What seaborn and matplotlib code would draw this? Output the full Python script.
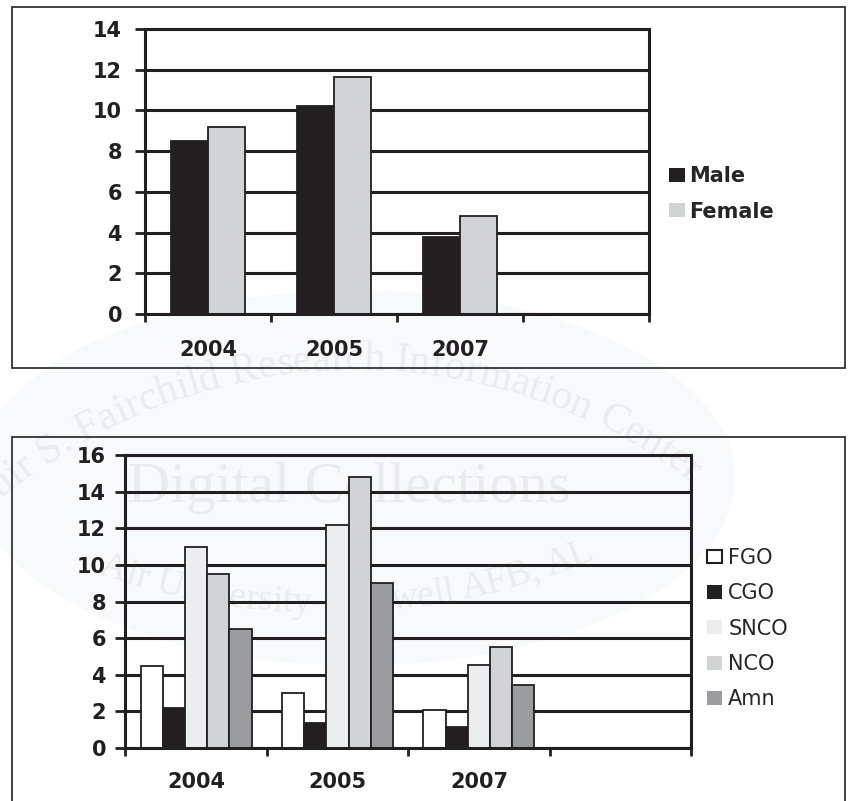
import numpy as np
import pandas as pd
import matplotlib
matplotlib.use("Agg")
import matplotlib.pyplot as plt
import seaborn as sns
from matplotlib.patches import Rectangle, Ellipse, Patch
from matplotlib.font_manager import FontProperties
from matplotlib.textpath import TextToPath

# ---- data -------------------------------------------------------------
years = ["2004", "2005", "2007"]

gender_groups = ["Male", "Female"]
male = [8.5, 10.2, 3.8]
female = [9.2, 11.65, 4.8]

rank_groups = ["FGO", "CGO", "SNCO", "NCO", "Amn"]
fgo = [4.5, 3.0, 2.05]
cgo = [2.2, 1.35, 1.15]
snco = [11.0, 12.2, 4.55]
nco = [9.5, 14.8, 5.5]
amn = [6.5, 9.0, 3.45]

# ---- styling ----------------------------------------------------------
INK = "#231f20"
gender_colors = [INK, "#d1d3d4"]
rank_colors = ["#ffffff", INK, "#ecedee", "#d1d3d4", "#9a9c9f"]
LABEL_FONT = "DejaVu Sans"

sns.set_theme(style="white")
plt.rcParams["font.family"] = [LABEL_FONT]

W, H = 848, 801


def fig_box(x0, y0, x1, y1):
    """Pixel box (origin top-left) -> figure-fraction rect."""
    return [x0 / W, 1 - y1 / H, (x1 - x0) / W, (y1 - y0) / H]


def long_frame(groups, series):
    rows = []
    for g, vals in zip(groups, series):
        for y, v in zip(years, vals):
            rows.append({"year": y, "group": g, "value": v})
    return pd.DataFrame(rows)


gender_df = long_frame(gender_groups, [male, female])
rank_df = long_frame(rank_groups, [fgo, cgo, snco, nco, amn])

fig = plt.figure(figsize=(W / 100, H / 100), dpi=100)

# ---- archive watermark (drawn underneath the charts) -----------------
WM_FONT = "Liberation Serif"
WM_COLOR = "#ebebed"

fig.patches.append(Ellipse((355 / W, 1 - 478 / H), 760 / W, 375 / H,
                           transform=fig.transFigure, facecolor="#f7f9fc",
                           edgecolor="none", zorder=-3))


def prefix_widths_px(text, size):
    fp = FontProperties(family=WM_FONT, size=size)
    ttp = TextToPath()
    pts = [ttp.get_text_width_height_descent(text[:i], fp, ismath=False)[0]
           for i in range(1, len(text) + 1)]
    return np.array(pts) * 100 / 72


def arc_text(text, cx, cy, r, x_first, size, top=True):
    """Set text letter by letter along a circle of baseline radius r."""
    p = prefix_widths_px(text, size)
    centers = (np.concatenate([[0.0], p[:-1]]) + p) / 2
    a0 = np.arcsin((x_first - cx) / r)
    for ch, s in zip(text, centers - centers[0]):
        if ch == " ":
            continue
        a = a0 + s / r
        x = cx + r * np.sin(a)
        if top:
            y = cy - r * np.cos(a)
            rot = -np.degrees(a)
        else:
            y = cy + r * np.cos(a)
            rot = np.degrees(a)
        fig.text(x / W, 1 - y / H, ch, rotation=rot, rotation_mode="anchor",
                 ha="center", va="baseline", fontsize=size, family=WM_FONT,
                 color=WM_COLOR, zorder=-1)


arc_text("Muir S. Fairchild Research Information Center",
         356, 926, 556, -14, 30, top=True)
fig.text(349 / W, 1 - 502 / H, "Digital Collections", ha="center", va="baseline",
         fontsize=42, family=WM_FONT, color=WM_COLOR, zorder=-1)
arc_text("Air University-Maxwell AFB, AL",
         327, -69, 682, 110, 27, top=False)

# ---- panel frames -----------------------------------------------------
fig.patches.append(Rectangle((12 / W, 1 - 368 / H), (845 - 12) / W, (368 - 7) / H,
                             transform=fig.transFigure, fill=False,
                             edgecolor="#333333", linewidth=1.3, zorder=1))
fig.patches.append(Rectangle((12 / W, -0.05), (845 - 12) / W, 1 - 437 / H + 0.05,
                             transform=fig.transFigure, fill=False,
                             edgecolor="#333333", linewidth=1.3, zorder=1))

ax1 = fig.add_axes(fig_box(145, 29, 649, 314))
ax2 = fig.add_axes(fig_box(125.5, 455, 691, 748))

sns.barplot(data=gender_df, x="year", y="value", hue="group", order=years,
            hue_order=gender_groups, palette=gender_colors, width=0.58, gap=0,
            saturation=1, errorbar=None, edgecolor=INK, linewidth=1.3,
            legend=False, ax=ax1)
sns.barplot(data=rank_df, x="year", y="value", hue="group", order=years,
            hue_order=rank_groups, palette=rank_colors, width=0.785, gap=0,
            saturation=1, errorbar=None, edgecolor=INK, linewidth=1.3,
            legend=False, ax=ax2)


def style_axes(ax, ymax, x_pad, y_pad):
    ax.set_facecolor("none")
    ax.set_xlim(-0.5, 3.5)
    ax.set_ylim(0, ymax)
    ax.set_yticks(np.arange(0, ymax + 1, 2))
    ax.set_xticks([-0.5, 0.5, 1.5, 2.5, 3.5])
    ax.set_xticklabels([])
    ax.set_xticks(range(len(years)), minor=True)
    ax.set_xticklabels(years, minor=True)
    ax.tick_params(axis="x", which="minor", length=0, pad=x_pad,
                   labelsize=15, labelcolor=INK)
    ax.tick_params(axis="x", which="major", length=6, width=2, color=INK,
                   direction="out", bottom=True)
    ax.tick_params(axis="y", length=7, width=2, color=INK, direction="out",
                   pad=y_pad, labelsize=15, labelcolor=INK, left=True)
    ax.yaxis.grid(True, color=INK, linewidth=2.2)
    ax.xaxis.grid(False)
    ax.set_axisbelow(True)
    for s in ax.spines.values():
        s.set_visible(True)
        s.set_color(INK)
        s.set_linewidth(2.2)
    ax.set_xlabel("")
    ax.set_ylabel("")
    for t in ax.get_xticklabels(minor=True) + ax.get_yticklabels():
        t.set_fontweight("bold")


style_axes(ax1, 14, 19, 9.5)
style_axes(ax2, 16, 17.5, 7)

# ---- legends ----------------------------------------------------------
gender_handles = [Patch(facecolor=c, edgecolor="none") for c in gender_colors]
fig.legend(gender_handles, gender_groups, loc="center left",
           bbox_to_anchor=(669 / W, 1 - 194 / H), frameon=False,
           handlelength=0.77, handleheight=0.63, handletextpad=0.2,
           labelspacing=0.72, borderpad=0, borderaxespad=0,
           prop=FontProperties(family=LABEL_FONT, weight="bold", size=15))

rank_handles = [Patch(facecolor=c, edgecolor=INK if c == "#ffffff" else "none",
                      linewidth=1.5) for c in rank_colors]
fig.legend(rank_handles, rank_groups, loc="center left",
           bbox_to_anchor=(707 / W, 1 - 628.6 / H), frameon=False,
           handlelength=0.72, handleheight=0.63, handletextpad=0.3,
           labelspacing=0.74, borderpad=0, borderaxespad=0,
           prop=FontProperties(family=LABEL_FONT, size=15))

fig.savefig("out.png", dpi=100)
